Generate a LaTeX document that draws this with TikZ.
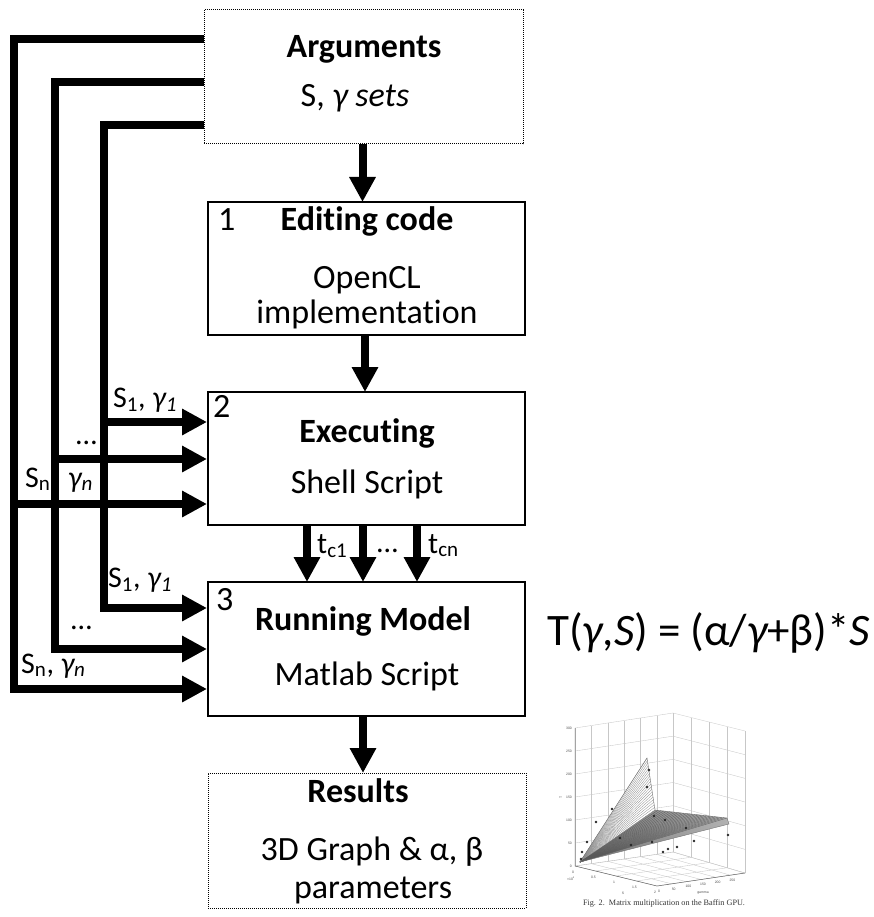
\documentclass[tikz,border=0pt]{standalone}
\usepackage{fontspec}
\setmainfont{Carlito}[Ligatures=CommonOff]
\newfontfamily\capfont{Liberation Serif}
\newfontfamily\plotfont{Liberation Sans}
\usetikzlibrary{arrows.meta,calc}
\begin{document}
\begin{tikzpicture}[x=1pt,y=-1pt,
  box/.style={draw,line width=1.8pt,inner sep=0pt,outer sep=0pt},
  dotbox/.style={draw,line width=1pt,dash pattern=on 1pt off 1pt,inner sep=0pt,outer sep=0pt},
  txt/.style={font=\fontsize{34}{41}\selectfont,inner sep=0pt,anchor=base},
  bf/.style={txt,font=\fontsize{34}{41}\selectfont\bfseries},
  lab/.style={font=\fontsize{30}{36}\selectfont,inner sep=0pt,anchor=base west},
  bus/.style={line width=8pt,line join=miter},
  arr/.style={-{Triangle[length=25pt,width=25pt]}},
  grid/.style={black!22,line width=0.35pt},
  axis/.style={black!60,line width=0.5pt},
  tick/.style={font=\plotfont\fontsize{3.4}{4}\selectfont,text=black!70,inner sep=0pt},
  surf/.style={black!45,line width=0.3pt},
  surfd/.style={black!65,line width=0.3pt}]
\useasboundingbox (0,0) rectangle (874,917);

% ---------- boxes ----------
\node[dotbox,minimum width=319pt,minimum height=134pt] (args) at (363.5,77) {};
\node[box,minimum width=317pt,minimum height=133pt] (b1) at (366.5,268.5) {};
\node[box,minimum width=317pt,minimum height=133pt] (b2) at (366.5,458.5) {};
\node[box,minimum width=317pt,minimum height=134pt] (b3) at (366.5,649) {};
\node[dotbox,minimum width=318pt,minimum height=135pt] (res) at (367,840.5) {};

% ---------- box texts ----------
\node[bf] (targs) at (364,58) {Arguments};
\node[txt] (targs2) at (355,107) {S, {\itshape γ sets}};
\node[txt,anchor=base west] (n1) at (218,230) {1};
\node[bf] (t1a) at (367,230) {Editing code};
\node[txt] (t1b) at (367,288) {OpenCL};
\node[txt] (t1c) at (367,323) {implementation};
\node[txt,anchor=base west] (n2) at (213,417) {2};
\node[bf] (t2a) at (367,442) {Executing};
\node[txt] (t2b) at (367,493) {Shell Script};
\node[txt,anchor=base west] (n3) at (216,610) {3};
\node[bf] (t3a) at (363,630) {Running Model};
\node[txt] (t3b) at (367,685) {Matlab Script};
\node[bf] (t4a) at (358,802) {Results};
\node[txt] (t4b) at (372,860) {3D Graph \& α, β};
\node[txt] (t4c) at (373,898) {parameters};

% ---------- connection points ----------
\coordinate (a1) at (204,39);
\coordinate (a2) at (204,82);
\coordinate (a3) at (204,125);
\coordinate (b2i1) at (207,422);
\coordinate (b2i2) at (207,459);
\coordinate (b2i3) at (207,504);
\coordinate (b3i1) at (207,608);
\coordinate (b3i2) at (207,649);
\coordinate (b3i3) at (207,689);
\coordinate (v1) at (14,504);
\coordinate (v2) at (55,459);
\coordinate (v3) at (104,422);

% ---------- buses ----------
\draw[bus,arr] (a1) -- (14,39) -- (14,689) -- (b3i3);
\draw[bus,arr] (a2) -- (55,82) -- (55,649) -- (b3i2);
\draw[bus,arr] (a3) -- (104,125) -- (104,608) -- (b3i1);
\draw[bus,arr] (v1) -- (b2i3);
\draw[bus,arr] (v2) -- (b2i2);
\draw[bus,arr] (v3) -- (b2i1);

% ---------- vertical flow arrows ----------
\draw[bus,arr] ([xshift=-1pt]args.south) -- ([xshift=-1pt]args.south |- b1.north);
\draw[bus,arr] ([xshift=-1.5pt]b1.south) -- ([xshift=-1.5pt]b2.north);
\draw[bus,arr] ([xshift=-59.5pt]b2.south) -- ([xshift=-59.5pt]b3.north);
\draw[bus,arr] ([xshift=-3.5pt]b2.south) -- ([xshift=-3.5pt]b3.north);
\draw[bus,arr] ([xshift=50.5pt]b2.south) -- ([xshift=50.5pt]b3.north);
\draw[bus,arr] ([xshift=-3.5pt]b3.south) -- ([xshift=-3.5pt]b3.south |- res.north);

% ---------- labels ----------
\node[lab] (l1) at (113,407) {S\textsubscript{1}, {\itshape γ\textsubscript{1}}};
\node[lab] (l2) at (76,444) {…};
\node[lab] (l3) at (25,487) {S\textsubscript{n}};
\node[lab] (l4) at (68,487) {{\itshape γ\textsubscript{n}}};
\node[lab] (l5) at (108,587) {S\textsubscript{1}, {\itshape γ\textsubscript{1}}};
\node[lab] (l6) at (71,629) {…};
\node[lab] (l7) at (21,673) {S\textsubscript{n}, {\itshape γ\textsubscript{n}}};
\node[lab] (tc1) at (317,553) {t\textsubscript{c1}};
\node[lab] (tdots) at (377,552) {…};
\node[lab] (tcn) at (428,553) {t\textsubscript{cn}};

% ---------- formula ----------
\node[font=\fontsize{45}{54}\selectfont,inner sep=0pt,anchor=base west] (formula) at (547,645)
  {T({\itshape γ},{\itshape S}) = (α/{\itshape γ}+β)*{\itshape S}};

% ---------- 3D plot ----------
\coordinate (C1) at (575,866);
\coordinate (C2) at (657,886);
\coordinate (C3) at (673,852);
\coordinate (C4) at (745,873);
\coordinate (T1) at (575,728);
\coordinate (T3) at (673,713);
\coordinate (T4) at (745,731);
\foreach \k in {0,...,6} \draw[grid] ($(C1)!\k/6!(C3)$) -- ($(T1)!\k/6!(T3)$);
\foreach \j in {0,...,6} \draw[grid] ($(C1)!\j/6!(T1)$) -- ($(C3)!\j/6!(T3)$);
\foreach \k in {0,...,4} \draw[grid] ($(C3)!\k/4!(C4)$) -- ($(T3)!\k/4!(T4)$);
\foreach \j in {0,...,6} \draw[grid] ($(C3)!\j/6!(T3)$) -- ($(C4)!\j/6!(T4)$);
\foreach \k in {0,...,6} \draw[grid] ($(C1)!\k/6!(C3)$) -- ($(C2)!\k/6!(C4)$);
\foreach \m in {0,...,4} \draw[grid] ($(C1)!\m/4!(C2)$) -- ($(C3)!\m/4!(C4)$);
\draw[axis] (T1) -- (C1) -- (C2) -- (C4);
\foreach \j/\v in {0/0,1/50,2/100,3/150,4/200,5/250,6/300}
  \node[tick,anchor=east] at ($(C1)!\j/6!(T1)+(-3,0)$) {\v};
\foreach \m/\v in {0/0,1/0.5,2/1,3/1.5,4/2}
  \node[tick] at ($(C1)!\m/4!(C2)+(-2,6)$) {\v};
\foreach \k/\v in {0/0,1/50,2/100,3/150,4/200,5/250}
  \node[tick] at ($(C2)!\k/6!(C4)+(2,5)$) {\v};
\node[tick] at (571,879) {×10\textsuperscript{4}};
\node[tick] at (623,893) {S};
\node[tick] at (703,893) {gamma};
\node[tick,rotate=90] at (561,797) {T};

\coordinate (A) at (580,862);
\coordinate (P) at (647,758);
\coordinate (R) at (655,810);
\coordinate (Q) at (727,818);
\coordinate (Qb) at (729,824);
\shade[left color=black!55,right color=black!30] (A) -- (R) -- (Q) -- (Qb) -- cycle;
\fill[white] (A) -- (P) -- (R) -- cycle;
\foreach \t in {0,0.05,...,1} \draw[surf] (A) -- ($(P)!\t!(R)$);
\foreach \t in {0,0.04,...,1} \draw[surfd] (A) -- ($(R)!\t!(Q)$);
\draw[black!55,line width=0.4pt] (A) -- (P) -- (R) -- (Q) -- (Qb) -- cycle;
\foreach \p in {(649,770),(647,787),(612,809),(596,822),(654,816),(665,820),(686,828),(728,835),
  (620,838),(631,845),(652,842),(587,842),(582,852),(581,859),(694,841),(677,847),(668,849),(663,852)}
  \fill[black!85] \p circle[radius=1.3pt];

\node[font=\capfont\fontsize{8.2}{9}\selectfont,inner sep=0pt,anchor=base,text=black!80] (cap) at (664,905)
  {Fig. 2.\ \ Matrix multiplication on the Baffin GPU.};
\end{tikzpicture}
\end{document}
